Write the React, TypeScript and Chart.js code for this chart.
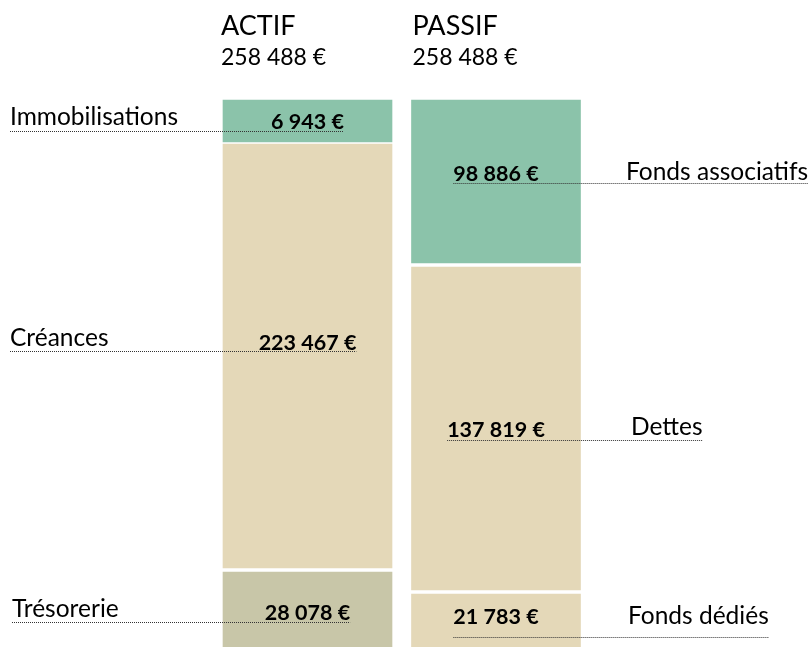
import React, { useEffect, useRef } from "react";
import { Chart, registerables } from "chart.js";

Chart.register(...registerables);

// ---- data ----
const columns = ["ACTIF", "PASSIF"];
const actifLabels = ["Immobilisations", "Créances", "Trésorerie"];
const actifValues = [6943, 223467, 28078];
const passifLabels = ["Fonds associatifs", "Dettes", "Fonds dédiés"];
const passifValues = [98886, 137819, 21783];
// segment heights as drawn in the figure (the original is not to scale), in € of a 258 488 € column
const actifDrawn = [21110, 200320, 37058];
const passifDrawn = [78344, 153404, 26740];

// ---- styles ----
const GREEN = "#8BC3AA";
const BEIGE = "#E4D8B8";
const KHAKI = "#C8C6A8";
const segmentColors = [
  [GREEN, BEIGE, KHAKI],
  [GREEN, BEIGE, BEIGE],
];
const FONT = "Lato, 'Open Sans', sans-serif";

// per-row placement (px offsets from segment centre)
const rowLayout = [
  [
    { line: 11, val: -2.5, cat: -6.5, x: 10 },
    { line: -5.5, val: -2, cat: -6, x: 10 },
    { line: 12.5, val: -3, cat: -6, x: 12 },
  ],
  [
    { line: 1, val: -2.5, cat: -3.5, x: 626 },
    { line: 11.5, val: -4, cat: -6, x: 631 },
    { line: 16.5, val: -14, cat: -14, x: 628 },
  ],
];

const fmt = (v: number) =>
  String(Math.round(v)).replace(/\B(?=(\d{3})+(?!\d))/g, " ") + " €";

const sum = (a: number[]) => a.reduce((s, v) => s + v, 0);

export default function App() {
  const ref = useRef<HTMLCanvasElement | null>(null);

  useEffect(() => {
    let chart: Chart | null = null;
    let cancelled = false;
    const allLabels = [actifLabels, passifLabels];
    const allValues = [actifValues, passifValues];
    const totals = [sum(actifValues), sum(passifValues)];

    const labelPlugin = {
      id: "bilanLabels",
      afterDatasetsDraw(c: any) {
        const ctx = c.ctx as CanvasRenderingContext2D;
        ctx.save();
        ctx.textBaseline = "alphabetic";
        for (let col = 0; col < 2; col++) {
          // headers
          const top = c.getDatasetMeta(0).data[col] as any;
          const left = top.x - top.width / 2 + (col === 0 ? 0 : 3);
          ctx.fillStyle = "#000";
          ctx.textAlign = "left";
          ctx.font = `27px ${FONT}`;
          ctx.fillText(columns[col], left, 35);
          ctx.font = `23px ${FONT}`;
          ctx.fillText(fmt(totals[col]), left, 65);

          for (let row = 0; row < 3; row++) {
            const el = c.getDatasetMeta(row).data[col] as any;
            const lay = rowLayout[col][row];
            const center = (el.y + el.base) / 2;
            const lineY = Math.round(center + lay.line) + 0.5;
            const valText = fmt(allValues[col][row]);
            ctx.font = `bold 21.5px ${FONT}`;
            const vw = ctx.measureText(valText).width;
            ctx.textAlign = "center";
            ctx.fillStyle = "#000";
            ctx.fillText(valText, el.x, lineY + lay.val);

            ctx.font = `24.5px ${FONT}`;
            const catText = allLabels[col][row];
            const cw = ctx.measureText(catText).width;
            ctx.textAlign = "left";
            ctx.fillText(catText, lay.x, lineY + lay.cat);

            let x0: number, x1: number;
            if (col === 0) {
              x0 = lay.x;
              x1 = el.x + vw / 2;
            } else {
              x0 = el.x - vw / 2;
              x1 = lay.x + cw;
            }
            ctx.beginPath();
            ctx.setLineDash([1, 1]);
            ctx.strokeStyle = "#333";
            ctx.lineWidth = 1;
            ctx.moveTo(x0, lineY);
            ctx.lineTo(x1, lineY);
            ctx.stroke();
            ctx.setLineDash([]);
          }
        }
        ctx.restore();
      },
    };

    const build = () => {
      if (cancelled || !ref.current) return;
      const border = (row: number) => (cx: any) => {
        if (cx.dataIndex === 0 && row === 0) return { top: 2, left: 2, right: 2, bottom: 1 };
        if (cx.dataIndex === 0 && row === 1) return { top: 1, left: 2, right: 2, bottom: 2 };
        return 2;
      };
      chart = new Chart(ref.current, {
        type: "bar",
        data: {
          labels: columns,
          datasets: [0, 1, 2].map((row) => ({
            label: `${actifLabels[row]} / ${passifLabels[row]}`,
            data: [actifDrawn[row], passifDrawn[row]],
            backgroundColor: [segmentColors[0][row], segmentColors[1][row]],
            borderColor: "#ffffff",
            borderWidth: border(row) as any,
            borderSkipped: false,
            barThickness: 173,
          })),
        },
        options: {
          animation: false,
          responsive: false,
          devicePixelRatio: 1,
          layout: { padding: { left: 213.25, right: 217.75, top: 98, bottom: 3 } },
          plugins: { legend: { display: false }, tooltip: { enabled: false } },
          scales: {
            x: { stacked: true, display: false, offset: true },
            y: {
              stacked: true,
              display: false,
              reverse: true,
              min: 0,
              max: sum(actifDrawn),
            },
          },
        },
        plugins: [labelPlugin],
      });
    };

    const fonts = (document as any).fonts;
    if (fonts && fonts.load) {
      Promise.all([
        fonts.load(`23px Lato`),
        fonts.load(`bold 21px Lato`),
      ]).then(build, build);
    } else build();

    return () => {
      cancelled = true;
      if (chart) chart.destroy();
    };
  }, []);

  return (
    <div
      style={{
        position: "fixed",
        left: 0,
        top: 0,
        width: 808,
        height: 647,
        overflow: "hidden",
        background: "#fff",
      }}
    >
      <canvas ref={ref} width={808} height={652} style={{ display: "block" }} />
    </div>
  );
}
